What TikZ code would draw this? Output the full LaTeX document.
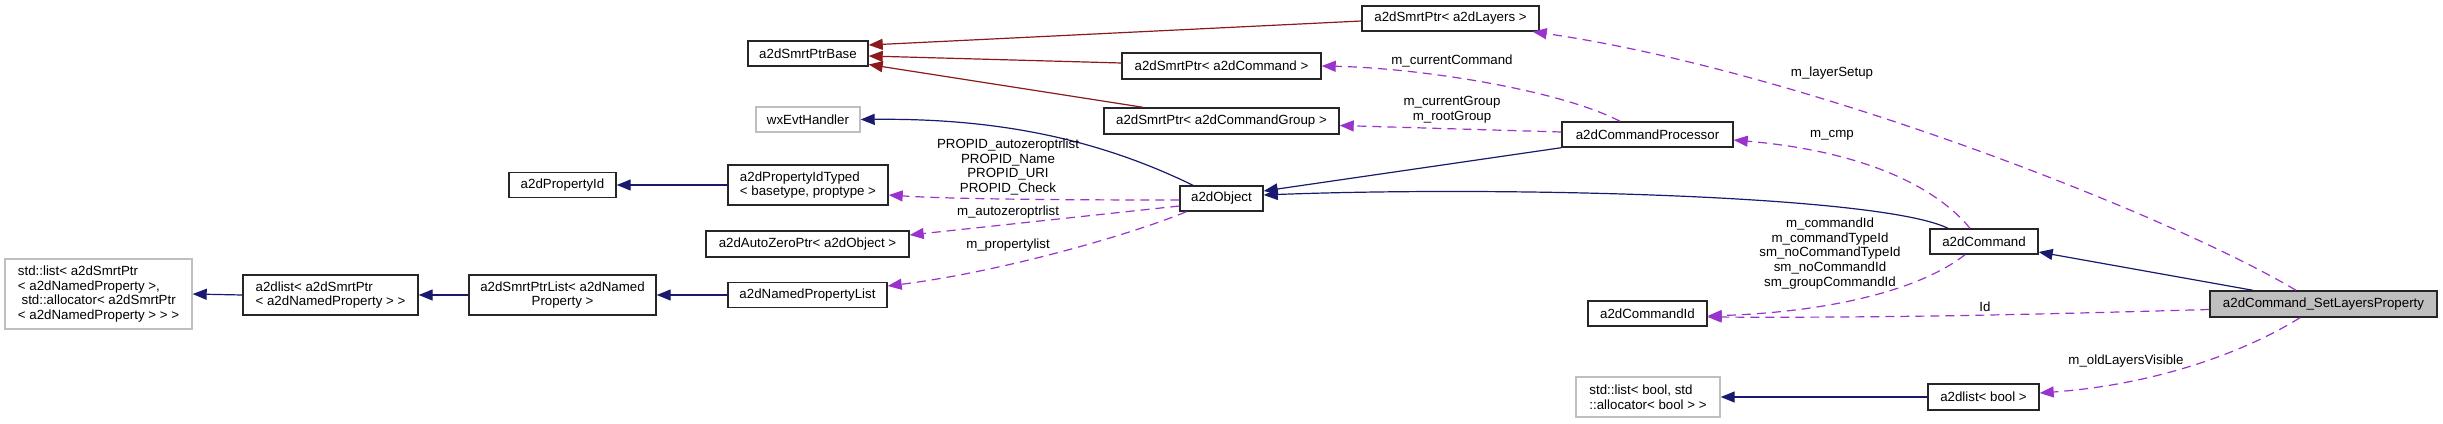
\documentclass[tikz,border=0pt]{standalone}
\usepackage{fontspec}
\setmainfont{Liberation Sans}
\usetikzlibrary{arrows.meta}
\definecolor{navyc}{HTML}{191970}
\definecolor{dredc}{HTML}{8B1A1A}
\definecolor{orchc}{HTML}{9A32CD}
\definecolor{lgreyc}{HTML}{BFBFBF}
\newcommand\dfont{\fontsize{13.3}{14.6}\selectfont}
\begin{document}
\begin{tikzpicture}[x=1pt,y=-1pt,
  box/.style={draw=black!85, line width=1.4pt, inner sep=0pt, font=\dfont, align=center},
  gbox/.style={box, draw=lgreyc},
  lbox/.style={box, align=left},
  lbl/.style={inner sep=0pt, font=\dfont, align=center},
  inh/.style={draw=navyc, line width=1.2pt, -{Triangle[length=14pt,width=11pt]}},
  inhr/.style={draw=dredc, line width=1.2pt, -{Triangle[length=14pt,width=11pt]}},
  usg/.style={draw=orchc, line width=1.2pt, dash pattern=on 9pt off 6pt, -{Triangle[length=14pt,width=11pt]}}
]
\fill[white] (0,0) rectangle (2443,423);
\useasboundingbox (0,0) rectangle (2443,423);

% nodes
\node[gbox, align=left, minimum width=187pt, minimum height=70pt] (stdlistNP) at (98.5,294)
  {std::list< a2dSmrtPtr\\< a2dNamedProperty >,\\\hspace*{3.7pt}std::allocator< a2dSmrtPtr\\< a2dNamedProperty > > >};
\node[lbox, minimum width=175pt, minimum height=40pt] (a2dlistNP) at (330.5,295)
  {a2dlist< a2dSmrtPtr\\< a2dNamedProperty > >};
\node[box, minimum width=187pt, minimum height=40pt] (smrtPtrList) at (562.5,295)
  {a2dSmrtPtrList< a2dNamed\\Property >};
\node[box, minimum width=107pt, minimum height=25pt] (propId) at (562.5,185) {a2dPropertyId};
\node[lbox, minimum width=160pt, minimum height=40pt] (propIdTyped) at (808,185)
  {a2dPropertyIdTyped\\< basetype, proptype >};
\node[box, minimum width=203pt, minimum height=26pt] (autoZero) at (807.5,244) {a2dAutoZeroPtr< a2dObject >};
\node[box, minimum width=159pt, minimum height=25pt] (namedPropList) at (807.5,295) {a2dNamedPropertyList};
\node[box, minimum width=120pt, minimum height=25pt] (base) at (808,53.5) {a2dSmrtPtrBase};
\node[gbox, minimum width=104pt, minimum height=25pt] (wxEvt) at (808,119.5) {wxEvtHandler};
\node[box, minimum width=177pt, minimum height=25pt] (layers) at (1450.5,18.5) {a2dSmrtPtr< a2dLayers >};
\node[box, minimum width=199pt, minimum height=26pt] (spCmd) at (1221.5,66) {a2dSmrtPtr< a2dCommand >};
\node[box, minimum width=235pt, minimum height=26pt] (spCmdGroup) at (1221.5,121) {a2dSmrtPtr< a2dCommandGroup >};
\node[box, minimum width=83pt, minimum height=25pt] (a2dObject) at (1221.5,198.5) {a2dObject};
\node[box, minimum width=171pt, minimum height=25pt] (cmdProc) at (1647.5,134.5) {a2dCommandProcessor};
\node[box, minimum width=119pt, minimum height=25pt] (cmdId) at (1647.5,313.5) {a2dCommandId};
\node[gbox, align=left, minimum width=144pt, minimum height=40pt] (stdlistBool) at (1648,397)
  {std::list< bool, std\\::allocator< bool > >};
\node[box, minimum width=108pt, minimum height=25pt] (a2dCommand) at (1984,241.5) {a2dCommand};
\node[box, minimum width=111pt, minimum height=26pt] (a2dlistBool) at (1983.5,397) {a2dlist< bool >};
\node[box, fill=lgreyc, minimum width=227pt, minimum height=26pt] (SLP) at (2323.5,304) {a2dCommand\_SetLayersProperty};

% inheritance edges
\draw[inhr] ([yshift=-2.5pt]layers.west) -- ([yshift=8.5pt]base.east);
\draw[inhr] ([yshift=3pt]spCmd.west) -- ([yshift=-2.5pt]base.east);
\draw[inhr] ([xshift=-78.5pt]spCmdGroup.north) -- ([yshift=-11pt]base.east);
\draw[inh] ([xshift=-28.5pt]a2dObject.north) .. controls (1100,140) and (1000,118) .. (wxEvt.east);
\draw[inh] (cmdProc.south west) -- ([yshift=7.5pt]a2dObject.east);
\draw[inh] ([xshift=-36pt]a2dCommand.north) .. controls (1880,195) and (1500,186) .. ([yshift=3.5pt]a2dObject.east);
\draw[inh] ([xshift=-70.5pt]SLP.north) -- ([yshift=-10.5pt]a2dCommand.east);
\draw[inh] (propIdTyped.west) -- (propId.east);
\draw[inh] (namedPropList.west) -- (smrtPtrList.east);
\draw[inh] (smrtPtrList.west) -- (a2dlistNP.east);
\draw[inh] (a2dlistNP.west) -- (stdlistNP.east);
\draw[inh] (a2dlistBool.west) -- (stdlistBool.east);

% usage edges
\draw[usg] ([xshift=-27.5pt]cmdProc.north) .. controls (1560,90) and (1420,68) .. (spCmd.east);
\draw[usg] ([yshift=2.5pt]cmdProc.west) -- ([yshift=-4.5pt]spCmdGroup.east);
\draw[usg] ([xshift=-14pt]a2dCommand.north) .. controls (1930,180) and (1850,150) .. ([yshift=-5.5pt]cmdProc.east);
\draw[usg] ([xshift=-27.5pt]SLP.north) .. controls (2170,215) and (1800,70) .. ([xshift=-7pt]layers.south east);
\draw[usg] ([xshift=-19pt]a2dCommand.south) .. controls (1920,290) and (1830,312) .. ([yshift=-2.5pt]cmdId.east);
\draw[usg] ([yshift=-5.5pt]SLP.west) .. controls (2050,314) and (1900,318) .. ([yshift=-3.5pt]cmdId.east);
\draw[usg] ([xshift=-23.5pt]SLP.south) .. controls (2240,355) and (2150,385) .. ([yshift=4pt]a2dlistBool.east);
\draw[usg] ([yshift=-1.5pt]a2dObject.west) .. controls (1050,200) and (950,199) .. ([yshift=-10pt]propIdTyped.east);
\draw[usg] ([yshift=-7.5pt]a2dObject.west) -- ([yshift=9pt]autoZero.east);
\draw[usg] ([xshift=7pt]a2dObject.south west) .. controls (1130,235) and (1000,272) .. ([yshift=9pt]namedPropList.east);

% labels
\node[lbl] (lCurCmd) at (1452,61) {m\_currentCommand};
\node[lbl] (lCurGrp) at (1452,110) {m\_currentGroup\\m\_rootGroup};
\node[lbl] (lCmp) at (1832,135) {m\_cmp};
\node[lbl] (lLayer) at (1832,73) {m\_layerSetup};
\node[lbl] (lCmdIds) at (1830,253.5) {m\_commandId\\m\_commandTypeId\\sm\_noCommandTypeId\\sm\_noCommandId\\sm\_groupCommandId};
\node[lbl] (lId) at (1985,307) {Id};
\node[lbl] (lOld) at (2126,361) {m\_oldLayersVisible};
\node[lbl] (lPropid) at (1008,167) {PROPID\_autozeroptrlist\\PROPID\_Name\\PROPID\_URI\\PROPID\_Check};
\node[lbl] (lAuto) at (1008,212) {m\_autozeroptrlist};
\node[lbl] (lProp) at (1008,245) {m\_propertylist};
\end{tikzpicture}
\end{document}
